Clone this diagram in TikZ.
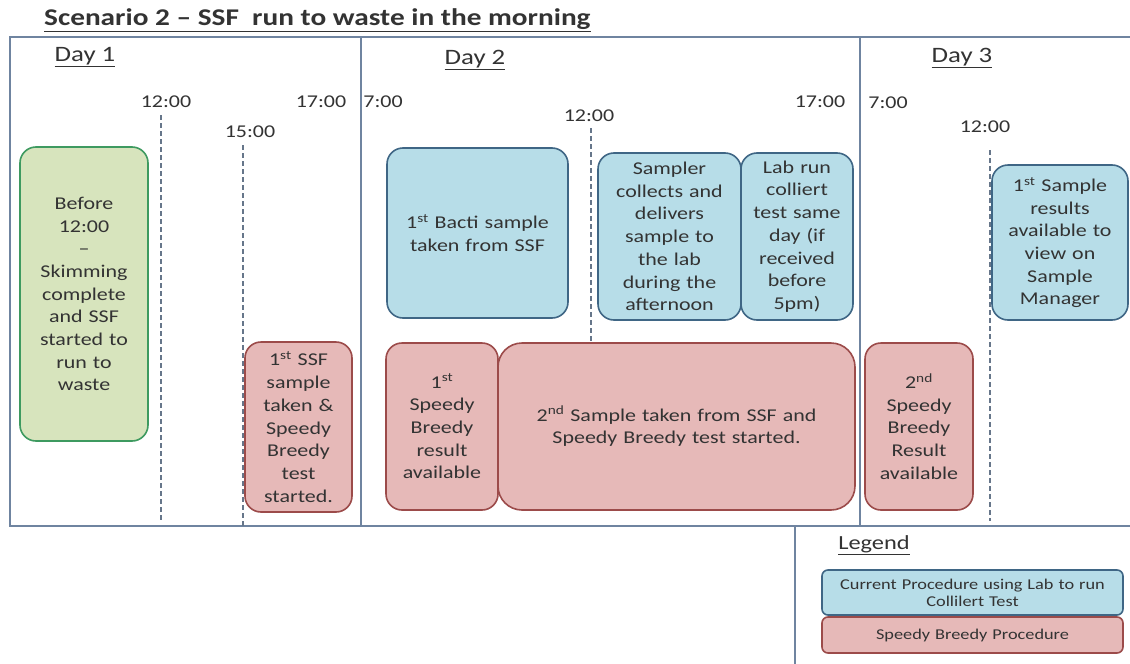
\documentclass[tikz,border=0pt]{standalone}
\usepackage{fontspec}
\setmainfont{Carlito}[FakeStretch=1.22]
\definecolor{frameC}{HTML}{6F84A0}
\definecolor{dashC}{HTML}{66768A}
\definecolor{blueF}{HTML}{B7DDE8}
\definecolor{blueD}{HTML}{3F6685}
\definecolor{pinkF}{HTML}{E6B9B8}
\definecolor{pinkD}{HTML}{9C4B4A}
\definecolor{greenF}{HTML}{D7E4BD}
\definecolor{greenD}{HTML}{3E9A60}
\definecolor{txt}{HTML}{333333}
\newcommand{\sptext}[1]{\textsuperscript{#1}}
\tikzset{
  body/.style={font=\fontsize{18}{22.7}\selectfont, text=txt, align=center, inner sep=2pt},
  boxbase/.style={body, anchor=center, line width=1.6pt},
  bluebox/.style={boxbase, draw=blueD, fill=blueF, rounded corners=16pt},
  pinkbox/.style={boxbase, draw=pinkD, fill=pinkF, rounded corners=16pt},
  greenbox/.style={boxbase, draw=greenD, fill=greenF, rounded corners=16pt},
  timelbl/.style={font=\fontsize{18}{20}\selectfont, text=txt, inner sep=0pt},
  daylbl/.style={font=\fontsize{22}{24}\selectfont, text=txt, inner sep=0pt},
  frameln/.style={draw=frameC, line width=2.2pt},
  dashln/.style={draw=dashC, line width=2.2pt, dash pattern=on 5pt off 3pt},
}
\begin{document}
\begin{tikzpicture}[x=1pt,y=-1pt]
\useasboundingbox[fill=white] (0,0) rectangle (1130,664);

% title
\node[font=\bfseries\fontsize{24}{26}\selectfont, text=txt, anchor=west, inner sep=0pt] (title) at (44,20) {\underline{Scenario 2 -- SSF\ \ run to waste in the morning}};

% frame
\coordinate (ftl) at (10,37);
\coordinate (ftr) at (1130,37);
\coordinate (fbl) at (10,526);
\coordinate (fbr) at (1130,526);
\coordinate (d2t) at (361,37);
\coordinate (d2b) at (361,526);
\coordinate (d3t) at (860,37);
\coordinate (d3b) at (860,526);
\coordinate (lgt) at (795,526);
\coordinate (lgb) at (795,664);
\draw[frameln] (ftr) -- (ftl) -- (fbl) -- (fbr);
\draw[frameln] (d2t) -- (d2b);
\draw[frameln] (d3t) -- (d3b);
\draw[frameln] (lgt) -- (lgb);

% day labels
\node[daylbl] (day1) at (85,57) {\underline{Day 1}};
\node[daylbl] (day2) at (475,60) {\underline{Day 2}};
\node[daylbl] (day3) at (962,58) {\underline{Day 3}};

% time labels
\node[timelbl] (t1a) at (166,102) {12:00};
\node[timelbl] (t1b) at (321,102) {17:00};
\node[timelbl] (t1c) at (250,132) {15:00};
\node[timelbl] (t2a) at (383,102) {7:00};
\node[timelbl] (t2b) at (589,116) {12:00};
\node[timelbl] (t2c) at (820,102) {17:00};
\node[timelbl] (t3a) at (888,103) {7:00};
\node[timelbl] (t3b) at (985,127) {12:00};

% dashed time lines
\coordinate (l1t) at (161,115); \coordinate (l1b) at (161,521);
\coordinate (l2t) at (243,145); \coordinate (l2b) at (243,526);
\coordinate (l3t) at (591,128); \coordinate (l3b) at (591,345);
\coordinate (l4t) at (990,150); \coordinate (l4b) at (990,521);
\draw[dashln] (l1t) -- (l1b);
\draw[dashln] (l2t) -- (l2b);
\draw[dashln] (l3t) -- (l3b);
\draw[dashln] (l4t) -- (l4b);

% boxes
\node[greenbox, minimum width=128pt, minimum height=294pt, text width=118pt] (before) at (84,294)
  {Before\\12:00\\--\\Skimming\\complete\\and SSF\\started to\\run to\\waste};
\node[pinkbox, minimum width=107pt, minimum height=170pt, text width=100pt] (ssf1) at (298.5,427)
  {1\sptext{st} SSF\\sample\\taken \&\\Speedy\\Breedy\\test\\started.};
\node[bluebox, minimum width=181pt, minimum height=170pt, text width=170pt] (bacti) at (477.5,233)
  {1\sptext{st} Bacti sample\\taken from SSF};
\node[bluebox, minimum width=143pt, minimum height=167pt, text width=136pt] (sampler) at (669.5,236.5)
  {Sampler\\collects and\\delivers\\sample to\\the lab\\during the\\afternoon};
\node[bluebox, minimum width=112pt, minimum height=167pt, text width=106pt] (labrun) at (797,236.5)
  {Lab run\\colliert\\test same\\day (if\\received\\before\\5pm)};
\node[pinkbox, minimum width=112pt, minimum height=167pt, text width=106pt] (sb1) at (442,426.5)
  {1\sptext{st}\\Speedy\\Breedy\\result\\available};
\node[pinkbox, minimum width=357pt, minimum height=167pt, text width=340pt, rounded corners=24pt] (sample2) at (676.5,426.5)
  {2\sptext{nd} Sample taken from SSF and\\Speedy Breedy test started.\\[22pt]};
\node[pinkbox, minimum width=108pt, minimum height=167pt, text width=102pt] (sb2) at (919,426.5)
  {2\sptext{nd}\\Speedy\\Breedy\\Result\\available};
\node[bluebox, minimum width=136pt, minimum height=155pt, text width=130pt] (res) at (1060,242.5)
  {1\sptext{st} Sample\\results\\available to\\view on\\Sample\\Manager};

% legend
\node[daylbl, font=\fontsize{20}{22}\selectfont] (legend) at (874,545) {\underline{Legend}};
\node[bluebox, font=\fontsize{15}{17}\selectfont, rounded corners=6pt, minimum width=301pt, minimum height=45pt, text width=290pt] (lgblue) at (972.5,592.5)
  {Current Procedure using Lab to run\\Collilert Test};
\node[pinkbox, font=\fontsize{15}{17}\selectfont, rounded corners=6pt, minimum width=301pt, minimum height=36pt, text width=290pt] (lgpink) at (972.5,635)
  {Speedy Breedy Procedure};
\end{tikzpicture}
\end{document}
